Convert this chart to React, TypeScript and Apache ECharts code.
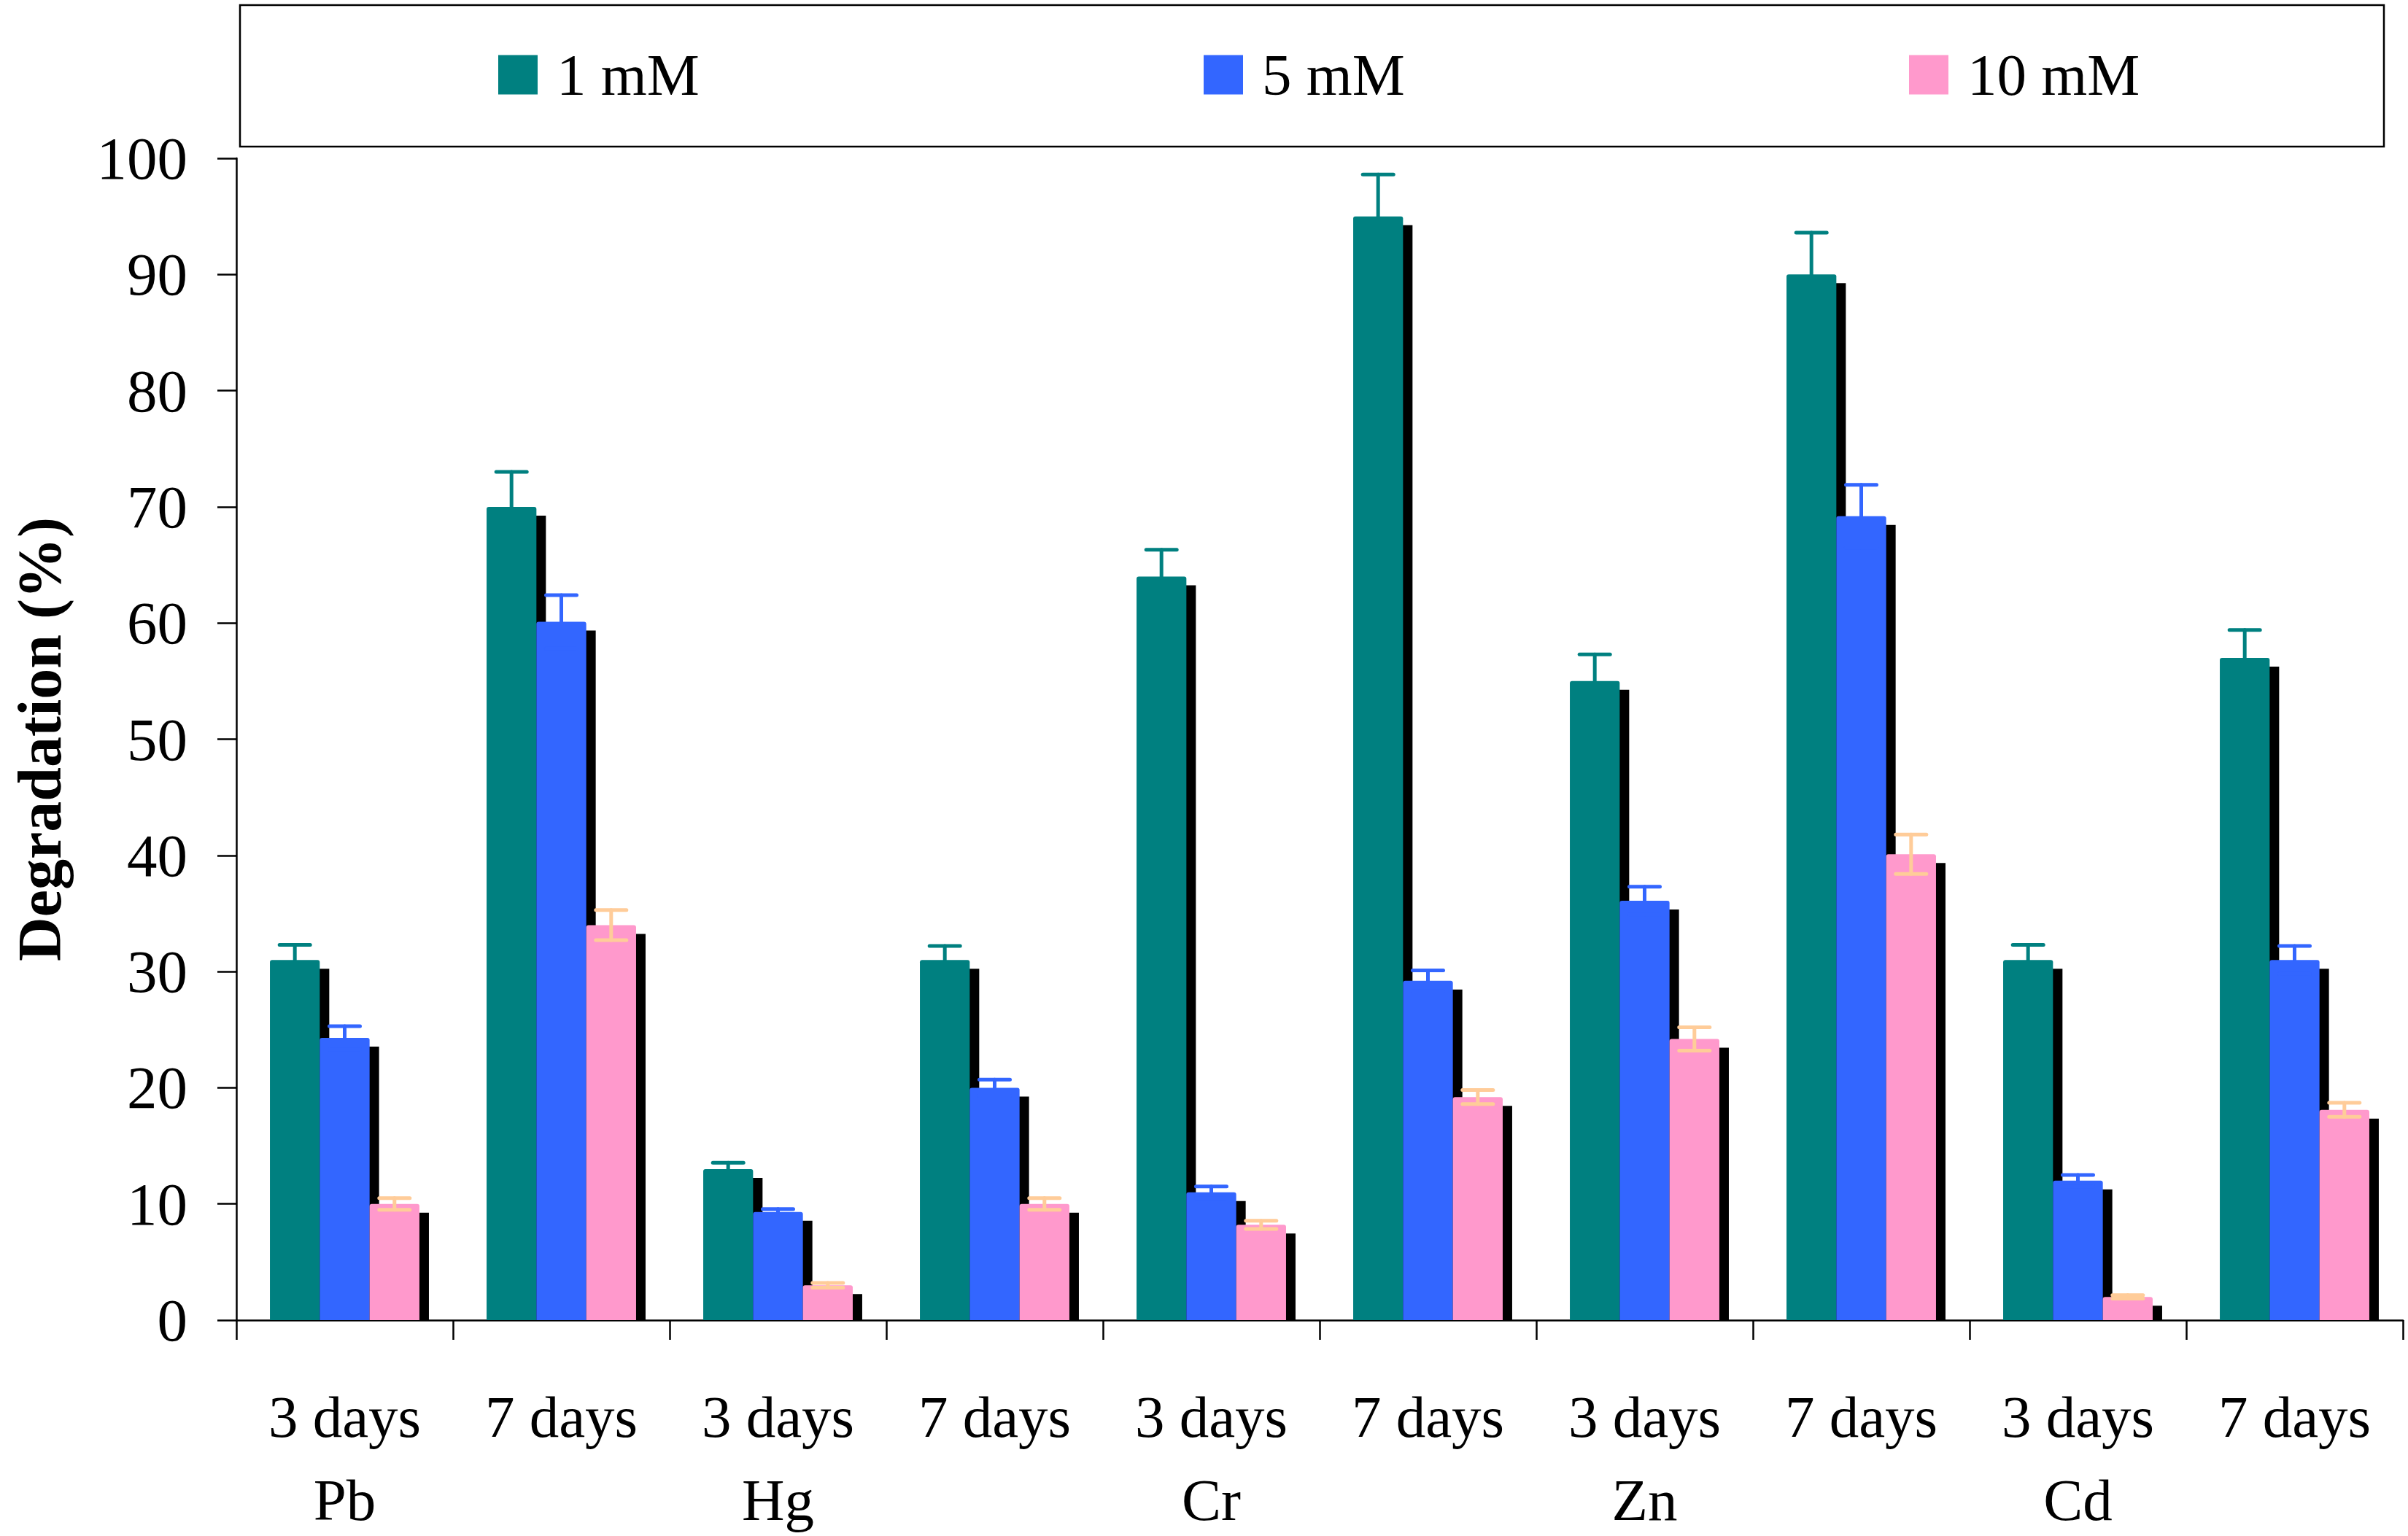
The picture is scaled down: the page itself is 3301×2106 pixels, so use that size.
import React, { useEffect, useRef } from "react";
import * as echarts from "echarts";

const DAYS = ["3 days", "7 days", "3 days", "7 days", "3 days", "7 days", "3 days", "7 days", "3 days", "7 days"];
const METALS = ["Pb", "Hg", "Cr", "Zn", "Cd"];
const CATEGORY_KEYS = ["Pb-3", "Pb-7", "Hg-3", "Hg-7", "Cr-3", "Cr-7", "Zn-3", "Zn-7", "Cd-3", "Cd-7"];

const SERIES_NAMES = ["1 mM", "5 mM", "10 mM"];
const VALUES_1MM = [31, 70, 13, 31, 64, 95, 55, 90, 31, 57];
const VALUES_5MM = [24.3, 60.1, 9.3, 20, 11, 29.2, 36.1, 69.2, 12, 31];
const VALUES_10MM = [10, 34, 3, 10, 8.2, 19.2, 24.2, 40.1, 2, 18.1];
const ERR_1MM = [1.3, 3.0, 0.55, 1.2, 2.3, 3.6, 2.3, 3.6, 1.3, 2.4];
const ERR_5MM = [1.0, 2.3, 0.25, 0.7, 0.5, 0.9, 1.2, 2.7, 0.5, 1.2];
const ERR_10MM = [0.5, 1.3, 0.2, 0.5, 0.35, 0.6, 1.0, 1.7, 0.15, 0.6];

const Y_TICKS_MIN = 0;
const Y_TICKS_MAX = 100;
const Y_TICKS_STEP = 10;

const BAR_COLORS = ["#008080", "#3366FF", "#FF99CC"];
const ERR_COLORS = ["#008080", "#3366FF", "#FFCC99"];

const FONT = "'Liberation Serif', 'Times New Roman', serif";
const BAR_FRAC = 0.23;
const SHADOW_DX = 13;
const SHADOW_DY = 12;
const CAP_HALF = 21;

export default function App() {
  const ref = useRef<HTMLDivElement | null>(null);

  useEffect(() => {
    document.body.style.margin = "0";
    if (!ref.current) return;
    const chart = echarts.init(ref.current, undefined, { renderer: "svg" });

    const allValues = [VALUES_1MM, VALUES_5MM, VALUES_10MM];
    const allErr = [ERR_1MM, ERR_5MM, ERR_10MM];

    const barSeries = SERIES_NAMES.map((name, s) => ({
      name,
      type: "bar",
      data: allValues[s],
      barWidth: `${BAR_FRAC * 100}%`,
      barGap: "0%",
      z: 3,
      itemStyle: { color: BAR_COLORS[s], borderRadius: [3, 3, 0, 0] },
    }));

    const shadowSeries = SERIES_NAMES.map((name, s) => ({
      name: `shadow-${name}`,
      type: "custom",
      z: 1,
      silent: true,
      data: allValues[s].map((v, i) => [i, v]),
      renderItem: (params: any, api: any) => {
        const ci = api.value(0);
        const v = api.value(1);
        const top = api.coord([ci, v]);
        const base = api.coord([ci, 0]);
        const band = api.size([1, 0])[0];
        const bw = band * BAR_FRAC;
        const cx = top[0] + (s - 1) * bw;
        const h = Math.max(0, base[1] - top[1] - SHADOW_DY);
        return {
          type: "rect",
          shape: { x: cx - bw / 2 + SHADOW_DX, y: base[1] - h, width: bw, height: h },
          style: { fill: "#000000" },
        };
      },
    }));

    const errSeries = SERIES_NAMES.map((name, s) => ({
      name: `err-${name}`,
      type: "custom",
      z: 5,
      silent: true,
      data: allValues[s].map((v, i) => [i, v, allErr[s][i]]),
      renderItem: (params: any, api: any) => {
        const ci = api.value(0);
        const v = api.value(1);
        const e = api.value(2);
        const band = api.size([1, 0])[0];
        const bw = band * BAR_FRAC;
        const hi = api.coord([ci, v + e]);
        const lo = api.coord([ci, v - e]);
        const cx = hi[0] + (s - 1) * bw;
        const style = { stroke: ERR_COLORS[s], lineWidth: 5, lineCap: "round" };
        return {
          type: "group",
          children: [
            { type: "line", shape: { x1: cx, y1: hi[1], x2: cx, y2: lo[1] }, style },
            { type: "line", shape: { x1: cx - CAP_HALF, y1: hi[1], x2: cx + CAP_HALF, y2: hi[1] }, style },
            { type: "line", shape: { x1: cx - CAP_HALF, y1: lo[1], x2: cx + CAP_HALF, y2: lo[1] }, style },
          ],
        };
      },
    }));

    const legendLefts = [683, 1650, 2617];
    const legends = SERIES_NAMES.map((name, s) => ({
      data: [name],
      left: legendLefts[s],
      top: 62,
      padding: 0,
      icon: "rect",
      itemWidth: 54,
      itemHeight: 54,
      selectedMode: false,
      textStyle: {
        fontFamily: FONT,
        fontSize: 81,
        color: "#000",
        padding: [0, 0, 0, 21],
      },
    }));

    chart.setOption({
      animation: false,
      backgroundColor: "#ffffff",
      textStyle: { fontFamily: FONT },
      legend: legends,
      graphic: [
        {
          type: "rect",
          z: -1,
          shape: { x: 329, y: 7, width: 2939, height: 194 },
          style: { fill: "none", stroke: "#000", lineWidth: 2.5 },
        },
      ],
      grid: {
        left: 324,
        right: 7,
        top: 217,
        bottom: 296,
        containLabel: false,
        outerBoundsMode: "none",
      },
      xAxis: {
        type: "category",
        data: CATEGORY_KEYS,
        boundaryGap: true,
        axisLine: { show: true, lineStyle: { color: "#000", width: 2.5 } },
        axisTick: { show: true, length: 27, interval: 0, lineStyle: { color: "#000", width: 2.5 } },
        axisLabel: {
          interval: 0,
          margin: 76,
          fontFamily: FONT,
          fontSize: 81,
          lineHeight: 114,
          color: "#000",
          formatter: (_v: string, i: number) =>
            i % 2 === 0 ? `${DAYS[i]}\n${METALS[i / 2]}` : DAYS[i],
        },
      },
      yAxis: {
        type: "value",
        min: Y_TICKS_MIN,
        max: Y_TICKS_MAX,
        interval: Y_TICKS_STEP,
        name: "Degradation (%)",
        nameLocation: "middle",
        nameRotate: 90,
        nameGap: 230,
        nameTextStyle: {
          fontFamily: FONT,
          fontSize: 84,
          fontWeight: "bold",
          color: "#000",
          lineHeight: 80,
        },
        axisLine: { show: true, lineStyle: { color: "#000", width: 2.5 } },
        axisTick: { show: true, length: 26, lineStyle: { color: "#000", width: 2.5 } },
        splitLine: { show: false },
        axisLabel: { margin: 67, fontFamily: FONT, fontSize: 83, color: "#000" },
      },
      series: [...shadowSeries, ...barSeries, ...errSeries],
    });

    return () => chart.dispose();
  }, []);

  return <div ref={ref} style={{ width: 3301, height: 2106 }} />;
}
